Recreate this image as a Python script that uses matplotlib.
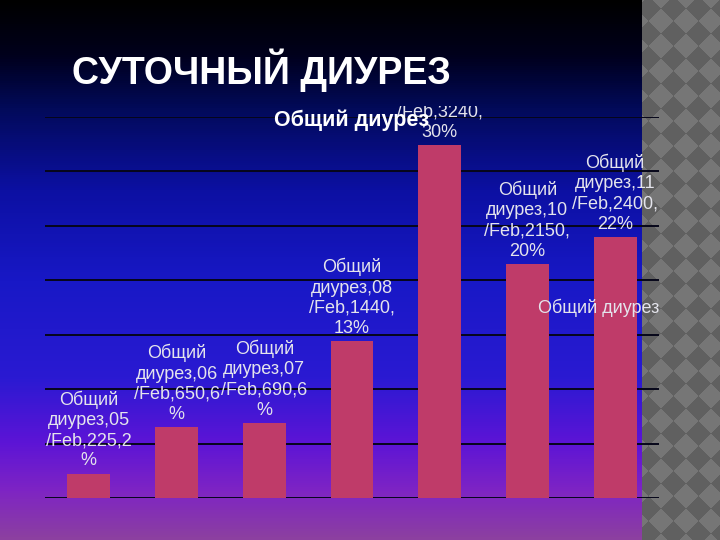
import numpy as np
import matplotlib
matplotlib.use("Agg")
import matplotlib.pyplot as plt
from matplotlib.colors import LinearSegmentedColormap
from matplotlib.transforms import Bbox, TransformedBbox

plt.rcParams['font.family'] = ['Liberation Sans', 'DejaVu Sans']

# data
series_name = "Общий диурез"
days = ["05", "06", "07", "08", "09", "10", "11"]
month = "Feb"
values = [225, 650, 690, 1440, 3240, 2150, 2400]
percents = [2, 6, 6, 13, 30, 20, 22]

slide_title = "СУТОЧНЫЙ ДИУРЕЗ"
chart_title = "Общий диурез"

BAR_COLOR = '#bf3b69'
TEXT_COLOR = '#e4e4ec'
GRID_COLOR = '#06061a'


def make_label(day, v, p):
    tail = f"/{month},{v},{p}%"
    return "\n".join(["Общий", f"диурез,{day}", tail[:10], tail[10:]])


fig = plt.figure(figsize=(7.2, 5.4), dpi=100)

# ---- background gradient
bg = fig.add_axes([0, 0, 1, 1], zorder=0)
stops = [(0.00, '#000000'), (0.10, '#00001c'), (0.20, '#020a5a'),
         (0.35, '#0c10a2'), (0.52, '#1818c6'), (0.70, '#2a1ad2'),
         (0.82, '#5c14d6'), (0.91, '#7e24c4'), (1.00, '#8c40a0')]
cmap = LinearSegmentedColormap.from_list('bgrad', stops)
grad = np.linspace(0, 1, 540).reshape(-1, 1)
bg.imshow(grad, aspect='auto', cmap=cmap, extent=[0, 1, 0, 1], origin='upper')
bg.set_axis_off()

# ---- checker strip on the right
ck = fig.add_axes([642 / 720, 0, 78 / 720, 1], zorder=1)
p = 25.0
xx, yy = np.meshgrid(np.arange(78) + 0.5, np.arange(540) + 0.5)
d = np.abs((xx + 6) % p - p / 2) + np.abs((yy + 4) % p - p / 2)
pat = np.where(d < p / 2, 0.0, 1.0)
ck.imshow(pat, aspect='auto', cmap=LinearSegmentedColormap.from_list(
    'ck', ['#606060', '#767676']), extent=[0, 1, 0, 1], interpolation='bilinear')
ck.set_axis_off()

# ---- chart
ax = fig.add_axes([45 / 720, 1 - 498 / 540, 614 / 720, 381 / 540], zorder=2)
ax.patch.set_alpha(0)
x = np.arange(len(values))
bars = ax.bar(x, values, width=0.49, color=BAR_COLOR, zorder=3)
ax.set_xlim(-0.5, len(values) - 0.5)
ax.set_ylim(0, 3500)
ax.set_yticks(np.arange(0, 3501, 500))
ax.grid(axis='y', color=GRID_COLOR, linewidth=1.4, zorder=1)
ax.tick_params(left=False, bottom=False, labelleft=False, labelbottom=False)
for s in ax.spines.values():
    s.set_visible(False)

clip = TransformedBbox(Bbox([[0, 0], [1, 1 - 106 / 540]]), fig.transFigure)
for xi, v, day, pc in zip(x, values, days, percents):
    t = ax.annotate(make_label(day, v, pc), (xi, v), xytext=(0, 3),
                    textcoords='offset points', ha='center', va='bottom',
                    fontsize=13, color=TEXT_COLOR, linespacing=1.25,
                    multialignment='center', zorder=4)
    t.set_clip_on(True)
    t.set_clip_box(clip)

# titles / legend
fig.text(72 / 720, 1 - 70 / 540, slide_title, fontsize=27, fontweight='bold',
         color='white', va='center', ha='left', zorder=5)
fig.text(352 / 720, 1 - 120 / 540, chart_title, fontsize=15.5, fontweight='bold',
         color='white', va='center', ha='center', zorder=5)
fig.text(538 / 720, 1 - 308 / 540, series_name, fontsize=13,
         color=TEXT_COLOR, va='center', ha='left', zorder=5)

fig.savefig('out.png', dpi=100)
